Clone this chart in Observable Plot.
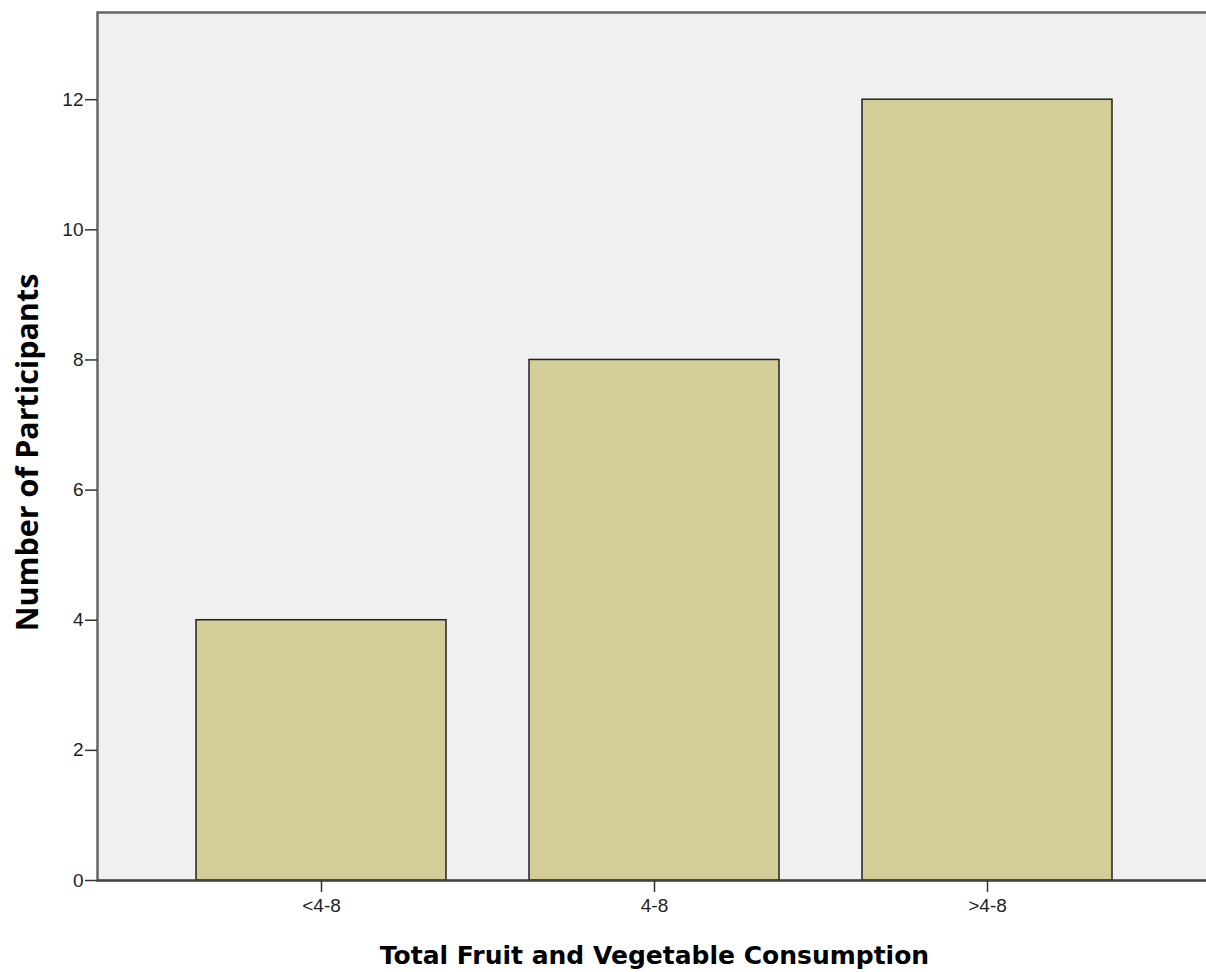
<!DOCTYPE html>
<html><head><meta charset="utf-8">
<script src="https://cdn.jsdelivr.net/npm/d3@7"></script>
<script src="https://cdn.jsdelivr.net/npm/@observablehq/plot@0.6"></script>
<style>
body{margin:0;background:#fff;overflow:hidden}
</style>
</head><body><div id="chart"></div>
<script>
const categories = ["<4-8", "4-8", ">4-8"];
const counts = [4, 8, 12];
const yTicks = [0, 2, 4, 6, 8, 10, 12];
const xTitle = ["Total Fruit and Vegetable Consumption"];
const yTitle = ["Number of Participants"];

const data = categories.map((c, i) => ({category: c, count: counts[i]}));
const tickFont = "'Liberation Sans', Arial, sans-serif";

const chart = Plot.plot({
  width: 1206,
  height: 972,
  marginLeft: 97,
  marginRight: -5,
  marginTop: 12,
  marginBottom: 92,
  style: {fontFamily: tickFont, fontSize: "19px", color: "#222", background: "#fff", overflow: "visible"},
  x: {type: "band", domain: categories, paddingInner: 0.25, paddingOuter: 0.293, label: null},
  y: {domain: [0, 13.34], label: null},
  marks: [
    Plot.frame({fill: "#f0f0f0", stroke: "#666", strokeWidth: 2.5}),
    Plot.barY(data, {x: "category", y: "count", fill: "#d3ce98", stroke: "#222", strokeWidth: 1.5}),
    Plot.ruleY([0], {stroke: "#444", strokeWidth: 2}),
    Plot.axisY({ticks: yTicks, tickSize: 12, tickPadding: 2, tickFormat: d => d, label: null, stroke: "#333", strokeWidth: 1.5, fontSize: 19, fontFamily: tickFont, fill: "#222"}),
    Plot.axisX({tickSize: 12, tickPadding: 6, label: null, stroke: "#333", strokeWidth: 1.5, fontSize: 19, fontFamily: tickFont, fill: "#222"}),
    Plot.text(xTitle, {text: d => d, frameAnchor: "bottom", dy: 75, fontFamily: "'DejaVu Sans', sans-serif", fontWeight: "bold", fontSize: 25, fill: "#000", textAnchor: "middle", lineAnchor: "middle"}),
    Plot.text(yTitle, {text: d => d, frameAnchor: "left", dx: -69, dy: 6, rotate: -90, fontFamily: "'Open Sans', sans-serif", fontWeight: "bold", fontSize: 30.5, fill: "#000", textAnchor: "middle", lineAnchor: "middle"})
  ]
});
document.getElementById("chart").append(chart);
</script>
</body></html>
